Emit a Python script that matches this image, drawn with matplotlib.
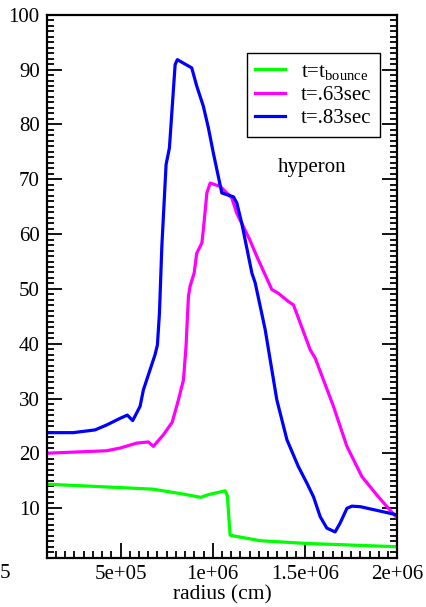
import matplotlib
matplotlib.use("Agg")
import matplotlib.pyplot as plt
from matplotlib.ticker import MultipleLocator

plt.rcParams["font.family"] = ["Liberation Serif", "DejaVu Serif"]
plt.rcParams["mathtext.fontset"] = "custom"
plt.rcParams["mathtext.rm"] = "Liberation Serif"
plt.rcParams["mathtext.it"] = "Liberation Serif:italic"

# t = t_bounce
bounce_r = [1.0e5, 2.98e5, 5.52e5, 6.75e5, 8.41e5, 9.35e5, 9.76e5, 1.067e6, 1.079e6,
            1.094e6, 1.257e6, 1.51e6, 2.0e6]
bounce_y = [14.4, 14.1, 13.7, 13.5, 12.6, 12.0, 12.5, 13.2, 12.3,
            5.1, 4.1, 3.6, 3.0]

# t = .63 sec
t63_r = [1.0e5, 4.25e5, 4.98e5, 5.88e5, 6.51e5, 6.78e5, 7.32e5, 7.80e5, 8.14e5, 8.41e5,
         8.55e5, 8.68e5, 8.77e5, 8.99e5, 9.13e5, 9.41e5, 9.49e5, 9.68e5, 9.86e5,
         1.04e6, 1.103e6, 1.13e6, 1.20e6, 1.239e6, 1.32e6, 1.356e6, 1.41e6, 1.437e6,
         1.464e6, 1.528e6, 1.555e6, 1.60e6, 1.654e6, 1.727e6, 1.808e6, 1.89e6, 1.952e6, 2.0e6]
t63_y = [20.05, 20.5, 21.0, 21.9, 22.1, 21.3, 23.4, 25.7, 29.8, 33.4,
         39.5, 48.6, 50.5, 52.9, 56.5, 58.4, 60.8, 67.5, 69.3,
         68.7, 66.6, 63.8, 59.0, 55.9, 49.9, 49.2, 47.7, 47.1,
         44.7, 38.9, 37.4, 33.4, 28.6, 21.3, 15.8, 12.4, 10.0, 8.2]

# t = .83 sec
t83_r = [1.0e5, 2.44e5, 3.62e5, 4.25e5, 4.97e5, 5.37e5, 5.66e5, 6.06e5, 6.24e5, 6.87e5,
         7.00e5, 7.11e5, 7.24e5, 7.47e5, 7.65e5, 7.96e5, 8.08e5, 8.86e5, 9.13e5, 9.49e5,
         9.76e5, 1.003e6, 1.049e6, 1.085e6, 1.112e6, 1.13e6, 1.157e6, 1.212e6, 1.23e6,
         1.284e6, 1.347e6, 1.402e6, 1.464e6, 1.51e6, 1.546e6, 1.582e6, 1.618e6, 1.663e6,
         1.69e6, 1.727e6, 1.754e6, 1.80e6, 2.0e6]
t83_y = [23.8, 23.8, 24.3, 25.2, 26.4, 27.0, 26.0, 28.6, 31.6, 38.0,
         39.8, 45.6, 57.8, 72.7, 75.7, 90.9, 91.8, 90.3, 87.0, 83.3,
         79.4, 74.8, 67.5, 67.1, 66.8, 65.7, 62.0, 52.9, 51.1,
         42.6, 29.8, 22.5, 17.6, 14.6, 12.1, 8.5, 6.4, 5.7,
         7.3, 10.0, 10.4, 10.3, 8.8]

labels = [r"t=t$_{\mathrm{bounce}}$", "t=.63sec", "t=.83sec"]
colors = ["#00ff00", "#ff00ff", "#0000ff"]

fig = plt.figure(figsize=(4.27, 6.07), dpi=100)
ax = fig.add_axes([0.1094, 0.0812, 0.821, 0.8946])

for r, y, lab, c in zip([bounce_r, t63_r, t83_r], [bounce_y, t63_y, t83_y], labels, colors):
    ax.plot(r, y, color=c, lw=2.3, label=lab, solid_joinstyle="round")

ax.set_xlim(1e5, 2e6)
ax.set_ylim(1, 100)
ax.xaxis.set_minor_locator(MultipleLocator(5e4))
ax.yaxis.set_minor_locator(MultipleLocator(1))
ax.set_xticks([5e5, 1e6, 1.5e6, 2e6])
ax.set_xticklabels(["5e+05", "1e+06", "1.5e+06", "2e+06"])
ax.set_yticks([10, 20, 30, 40, 50, 60, 70, 80, 90, 100])

ax.tick_params(which="both", direction="in", top=False, right=True, labelsize=15, width=1.3)
ax.tick_params(which="major", length=10.5, pad=5)
ax.tick_params(which="minor", length=5)
for s in ax.spines.values():
    s.set_linewidth(1.6)

ax.set_xlabel("radius (cm)", fontsize=15.5, labelpad=1)
ax.text(1.54e6, 72.1, "hyperon", fontsize=15, ha="center", va="center")

leg = ax.legend(loc="upper left", bbox_to_anchor=(0.570, 0.929), fontsize=15,
                frameon=True, fancybox=False, framealpha=1, edgecolor="black",
                handlelength=1.45, handletextpad=0.75, labelspacing=0.18,
                borderpad=0.42, borderaxespad=0)
leg.get_frame().set_linewidth(1.0)
for t in leg.get_texts():
    t.set_ha("left")

# the tick label cut at the far left edge of the reference shows only its last digit
fig.text(10 / 427, 1 - 574 / 607, "5", fontsize=15, ha="right", va="center")

fig.savefig("out.png", dpi=100)
